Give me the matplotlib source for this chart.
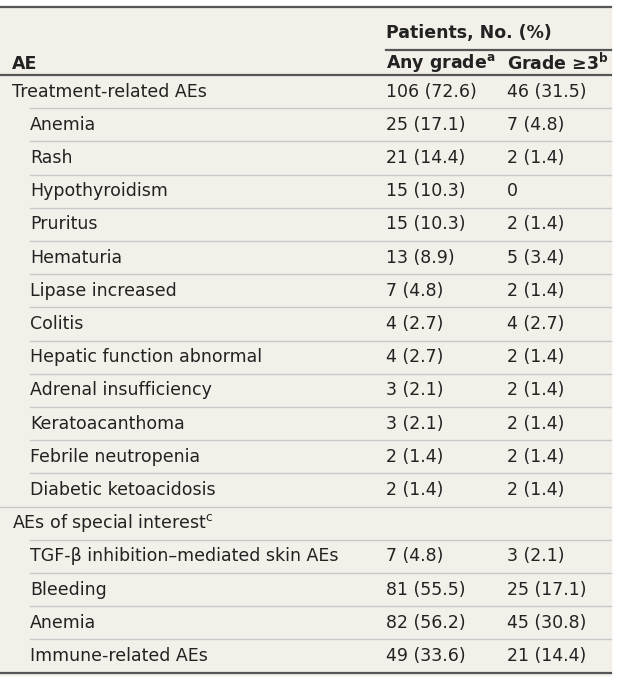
import matplotlib
matplotlib.use("Agg")
import matplotlib.pyplot as plt

labels = ["Treatment-related AEs", "Anemia", "Rash", "Hypothyroidism", "Pruritus",
          "Hematuria", "Lipase increased", "Colitis", "Hepatic function abnormal",
          "Adrenal insufficiency", "Keratoacanthoma", "Febrile neutropenia",
          "Diabetic ketoacidosis", "AEs of special interest$^{\\mathregular{c}}$",
          "TGF-β inhibition–mediated skin AEs", "Bleeding", "Anemia", "Immune-related AEs"]
any_grade = ["106 (72.6)", "25 (17.1)", "21 (14.4)", "15 (10.3)", "15 (10.3)", "13 (8.9)",
             "7 (4.8)", "4 (2.7)", "4 (2.7)", "3 (2.1)", "3 (2.1)", "2 (1.4)", "2 (1.4)",
             "", "7 (4.8)", "81 (55.5)", "82 (56.2)", "49 (33.6)"]
grade3 = ["46 (31.5)", "7 (4.8)", "2 (1.4)", "0", "2 (1.4)", "5 (3.4)", "2 (1.4)",
          "4 (2.7)", "2 (1.4)", "2 (1.4)", "2 (1.4)", "2 (1.4)", "2 (1.4)",
          "", "3 (2.1)", "25 (17.1)", "45 (30.8)", "21 (14.4)"]
sections = [0, 13]

plt.rcParams['font.family'] = ['DejaVu Sans Condensed', 'DejaVu Sans']
fig = plt.figure(figsize=(6.25, 6.81), dpi=100)
ax = fig.add_axes([0, 0, 1, 1])
ax.set_xlim(0, 625)
ax.set_ylim(681, 0)
ax.axis("off")

bg = "#f2f0e9"
ax.add_patch(plt.Rectangle((0, 7), 611, 668, color=bg, zorder=0))
dark = "#555555"
light = "#c8c8c8"
fs = 12.5
tc = "#222222"
x1, x2, xr = 386, 507, 611

ax.plot([0, xr], [7, 7], color=dark, lw=1.6)
ax.text(x1, 33, "Patients, No. (%)", fontsize=fs, va="center", color=tc, weight="bold")
ax.plot([x1, xr], [50, 50], color=dark, lw=1.6)
ax.text(12, 64, "AE", fontsize=fs, va="center", color=tc, weight="bold")
ax.text(x1, 63, "Any grade$^{\\mathregular{a}}$", fontsize=fs, va="center", color=tc, weight="bold")
ax.text(x2, 63, "Grade ≥3$^{\\mathregular{b}}$", fontsize=fs, va="center", color=tc, weight="bold")
ax.plot([0, xr], [75, 75], color=dark, lw=1.6)

rh = 33.2
for i, lab in enumerate(labels):
    yc = 75 + rh * (i + 0.5)
    xl = 12 if i in sections else 30
    ax.text(xl, yc, lab, fontsize=fs, va="center", color=tc)
    ax.text(x1, yc, any_grade[i], fontsize=fs, va="center", color=tc)
    ax.text(x2, yc, grade3[i], fontsize=fs, va="center", color=tc)
    yb = 75 + rh * (i + 1)
    if i == len(labels) - 1:
        ax.plot([0, xr], [yb, yb], color=dark, lw=1.6)
    else:
        xs = 0 if (i + 1) in sections else 30
        ax.plot([xs, xr], [yb, yb], color=light, lw=1)

fig.savefig("out.png", dpi=100, facecolor="white")
